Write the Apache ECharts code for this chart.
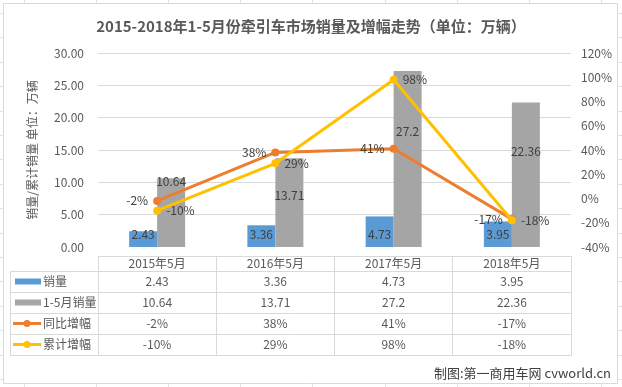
<!DOCTYPE html>
<html>
<head>
<meta charset="utf-8">
<script src="https://cdn.jsdelivr.net/npm/echarts@6/dist/echarts.min.js"></script>
<style>
html,body{margin:0;padding:0;background:#fff;}
#c{width:622px;height:387px;}
</style>
</head>
<body>
<div id="c"></div>
<script>
// ---- data ----
const categories = ['2015年5月', '2016年5月', '2017年5月', '2018年5月'];
const seriesNames = ['销量', '1-5月销量', '同比增幅', '累计增幅'];
const salesMay = [2.43, 3.36, 4.73, 3.95];
const salesJanMay = [10.64, 13.71, 27.2, 22.36];
const yoyGrowth = [-2, 38, 41, -17];
const cumGrowth = [-10, 29, 98, -18];
const leftAxisRange = { min: 0, max: 30, interval: 5 };
const rightAxisRange = { min: -40, max: 120, interval: 20 };
const titleText = '2015-2018年1-5月份牵引车市场销量及增幅走势（单位：万辆）';
const yAxisName = '销量/累计销量 单位：万辆';
const footerText = '制图:第一商用车网 cvworld.cn';

// ---- styles / layout ----
const FONT = '"Noto Sans CJK SC", "Noto Sans", sans-serif';
const C_BLUE = '#5b9bd5', C_GRAY = '#a5a5a5', C_ORANGE = '#ed7d31', C_YELLOW = '#ffc000';
const C_TEXT = '#595959', C_LABEL = '#404040', C_LINE = '#d9d9d9';
const grayLabelDy = [-31, -7, -28, -23];
const GRID = { left: 98, right: 51, top: 53, bottom: 140 };
const tableX = [10, 98, 216, 334, 452, 571];
const tableY = [256, 271, 292, 313, 334, 355];
const rowOffsets = [18, 39, 60, 81];

const fmtNum = v => String(v);
const fmtPct = v => v + '%';
const rowStrings = [salesMay.map(fmtNum), salesJanMay.map(fmtNum), yoyGrowth.map(fmtPct), cumGrowth.map(fmtPct)];

const chart = echarts.init(document.getElementById('c'), null, { renderer: 'canvas' });

const graphics = [];
// spreadsheet background grid
for (let x = 24; x < 622; x += 72.1) {
  graphics.push({ type: 'line', z: -30, silent: true, shape: { x1: Math.round(x) + 0.5, y1: 0, x2: Math.round(x) + 0.5, y2: 387 }, style: { stroke: '#e3e3e3', lineWidth: 1 } });
}
for (let y = 13; y < 387; y += 24.4) {
  graphics.push({ type: 'line', z: -30, silent: true, shape: { x1: 0, y1: Math.round(y) + 0.5, x2: 622, y2: Math.round(y) + 0.5 }, style: { stroke: '#e3e3e3', lineWidth: 1 } });
}
// chart area
graphics.push({ type: 'rect', z: -20, silent: true, shape: { x: 3.5, y: 3.5, width: 614, height: 380 }, style: { fill: '#fff', stroke: C_LINE, lineWidth: 1 } });
// table lines
tableX.forEach((x, i) => {
  graphics.push({ type: 'line', z: 1, silent: true, shape: { x1: x + 0.5, y1: (i === 0 ? tableY[1] : tableY[0]), x2: x + 0.5, y2: tableY[tableY.length - 1] + 0.5 }, style: { stroke: C_LINE, lineWidth: 1 } });
});
tableY.forEach((y, i) => {
  graphics.push({ type: 'line', z: 1, silent: true, shape: { x1: (i === 0 ? tableX[1] : tableX[0]), y1: y + 0.5, x2: tableX[tableX.length - 1] + 0.5, y2: y + 0.5 }, style: { stroke: C_LINE, lineWidth: 1 } });
});
// row headers with legend keys
seriesNames.forEach((name, i) => {
  const cy = (tableY[i + 1] + tableY[i + 2]) / 2;
  if (i < 2) {
    graphics.push({ type: 'rect', z: 2, silent: true, shape: { x: 15, y: cy - 3, width: 26, height: 6 }, style: { fill: i === 0 ? C_BLUE : C_GRAY } });
  } else {
    const col = i === 2 ? C_ORANGE : C_YELLOW;
    graphics.push({ type: 'line', z: 2, silent: true, shape: { x1: 13, y1: cy, x2: 41, y2: cy }, style: { stroke: col, lineWidth: 3 } });
    graphics.push({ type: 'circle', z: 2, silent: true, shape: { cx: 27, cy: cy, r: 3.5 }, style: { fill: col } });
  }
  graphics.push({ type: 'text', z: 2, silent: true, x: 43, y: cy, style: { text: name, font: '12px ' + FONT, fill: C_TEXT, textVerticalAlign: 'middle', verticalAlign: 'middle' } });
});
// footer
graphics.push({ type: 'text', z: 2, silent: true, x: 611, y: 373, style: { text: footerText, font: '13px ' + FONT, fill: '#404040', align: 'right', textAlign: 'right', verticalAlign: 'middle', textVerticalAlign: 'middle' } });

const tableAxes = rowStrings.map((arr, i) => ({
  type: 'category', gridIndex: 0, position: 'bottom', offset: rowOffsets[i],
  data: arr,
  axisLine: { show: false }, axisTick: { show: false }, splitLine: { show: false },
  axisLabel: { interval: 0, margin: 10, fontSize: 12, color: C_TEXT, fontFamily: FONT }
}));

const option = {
  backgroundColor: '#ffffff',
  animation: false,
  textStyle: { fontFamily: FONT },
  title: {
    text: titleText, left: 'center', top: 14,
    textStyle: { fontSize: 15, fontWeight: 'bold', color: C_TEXT, fontFamily: FONT }
  },
  graphic: graphics,
  grid: { left: GRID.left, right: GRID.right, top: GRID.top, bottom: GRID.bottom, containLabel: false },
  xAxis: [{
    type: 'category', data: categories, position: 'bottom',
    axisLine: { show: false }, axisTick: { show: false },
    axisLabel: { interval: 0, margin: 10, fontSize: 12, color: C_TEXT, fontFamily: FONT }
  }].concat(tableAxes),
  yAxis: [{
    type: 'value', min: leftAxisRange.min, max: leftAxisRange.max, interval: leftAxisRange.interval,
    name: yAxisName, nameLocation: 'middle', nameGap: 60,
    nameTextStyle: { fontSize: 12, color: C_TEXT, fontFamily: FONT },
    axisLine: { show: false }, axisTick: { show: false },
    axisLabel: { margin: 14, fontSize: 12, color: C_TEXT, formatter: v => v.toFixed(2) },
    splitLine: { show: true, showMinLine: false, lineStyle: { color: C_LINE, width: 1 } }
  }, {
    type: 'value', min: rightAxisRange.min, max: rightAxisRange.max, interval: rightAxisRange.interval,
    position: 'right',
    axisLine: { show: false }, axisTick: { show: false },
    axisLabel: { margin: 10, fontSize: 12, color: C_TEXT, formatter: v => v + '%' },
    splitLine: { show: false }
  }],
  series: [{
    name: seriesNames[0], type: 'bar', xAxisIndex: 0, yAxisIndex: 0,
    data: salesMay, barWidth: 28, barGap: '0%',
    itemStyle: { color: C_BLUE },
    label: { show: true, position: 'insideBottom', distance: 7, color: C_LABEL, fontSize: 12, formatter: p => fmtNum(p.value) }
  }, {
    name: seriesNames[1], type: 'bar', xAxisIndex: 0, yAxisIndex: 0,
    data: salesJanMay.map((v, i) => ({ value: v, label: { offset: [0, grayLabelDy[i]] } })),
    barWidth: 28, barGap: '0%',
    itemStyle: { color: C_GRAY },
    label: { show: true, position: 'inside', color: C_LABEL, fontSize: 12, formatter: p => fmtNum(p.value) }
  }, {
    name: seriesNames[2], type: 'line', xAxisIndex: 0, yAxisIndex: 1,
    data: yoyGrowth, symbol: 'circle', symbolSize: 8,
    lineStyle: { color: C_ORANGE, width: 3 }, itemStyle: { color: C_ORANGE },
    label: { show: true, position: 'left', distance: 5, color: C_LABEL, fontSize: 12, formatter: p => fmtPct(p.value) },
    z: 3
  }, {
    name: seriesNames[3], type: 'line', xAxisIndex: 0, yAxisIndex: 1,
    data: cumGrowth, symbol: 'circle', symbolSize: 8,
    lineStyle: { color: C_YELLOW, width: 3 }, itemStyle: { color: C_YELLOW },
    label: { show: true, position: 'right', distance: 5, color: C_LABEL, fontSize: 12, formatter: p => fmtPct(p.value) },
    z: 4
  }]
};
chart.setOption(option);
</script>
</body>
</html>
